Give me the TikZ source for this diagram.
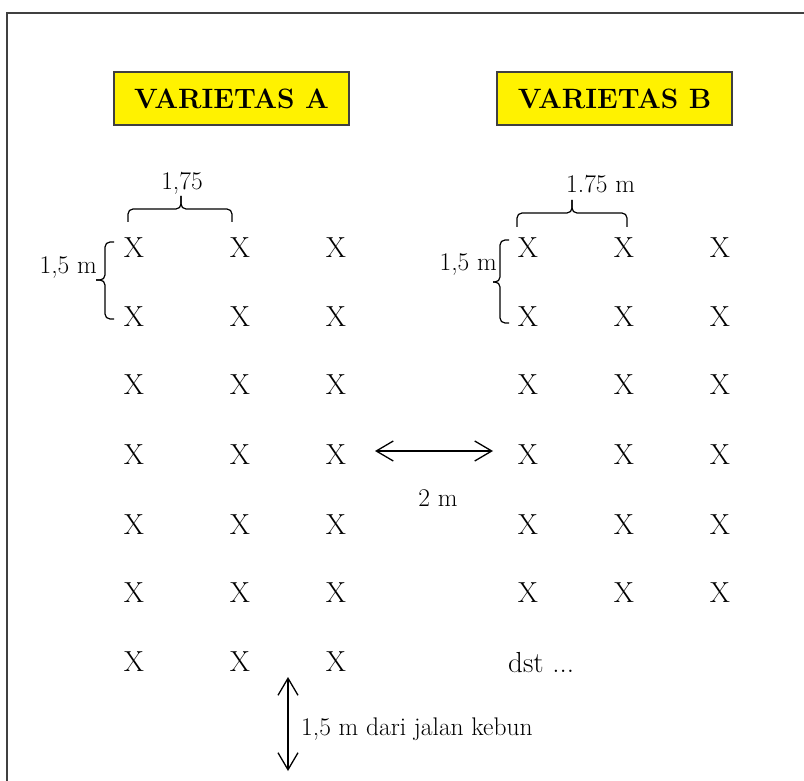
\documentclass[tikz,border=0pt]{standalone}
\usepackage{fontspec}
\usetikzlibrary{arrows.meta}
\tikzset{
  plant/.style={inner sep=0pt, font=\fontsize{29}{30}\selectfont},
  lbl/.style={inner sep=0pt, font=\fontsize{25.5}{27}\selectfont},
  titlebox/.style={draw=black!75, line width=1.3pt, fill=yellow, minimum width=235pt, minimum height=53pt, inner sep=0pt,
    font=\bfseries\fontsize{28}{30}\selectfont},
  bracepart/.style={line width=1.2pt, rounded corners=5pt},
  dimarrow/.style={line width=1.3pt, {Straight Barb[length=17pt,width=20pt,line width=1.3pt]}-{Straight Barb[length=17pt,width=20pt,line width=1.3pt]}},
  frameline/.style={draw=black!75, line width=2pt}
}
\begin{document}
\begin{tikzpicture}[x=1pt,y=-1pt]
\useasboundingbox (0,0) rectangle (804,781);
\draw[frameline] (7,781) -- (7,13) -- (804,13);
% title boxes
\node[titlebox] (boxA) at (231.5,98.5) {\raisebox{-3pt}{VARIETAS A}};
\node[titlebox] (boxB) at (614.5,98.5) {\raisebox{-3pt}{VARIETAS B}};
% plants variety A
\foreach \r/\y in {1/248,2/317,3/385,4/455,5/525,6/593,7/662}{
  \foreach \c/\x in {1/134,2/240,3/336}{
    \node[plant] (a\r\c) at (\x,\y) {X};
  }
}
% plants variety B
\foreach \r/\y in {1/248,2/317,3/385,4/455,5/525,6/593}{
  \foreach \c/\x in {1/528,2/624,3/720}{
    \node[plant] (b\r\c) at (\x,\y) {X};
  }
}
\node[plant, anchor=base west] (dst) at (508,672) {dst ...};
% horizontal brace A
\coordinate (hA1) at (128,222);
\coordinate (hA2) at (232,222);
\coordinate (hAt) at (181,196);
\draw[bracepart] (hA1) -- (128,209) -- (181,209) -- (hAt);
\draw[bracepart] (hAt) -- (181,209) -- (232,209) -- (hA2);
\node[lbl, anchor=base] (lhA) at (182,190) {1,75};
% vertical brace A
\coordinate (vA1) at (114,242);
\coordinate (vA2) at (114,319);
\coordinate (vAt) at (96,280);
\draw[bracepart] (vA1) -- (105,242) -- (105,280) -- (vAt);
\draw[bracepart] (vAt) -- (105,280) -- (105,319) -- (vA2);
\node[lbl, anchor=base east] (lvA) at (97,273) {1,5 m};
% horizontal brace B
\coordinate (hB1) at (517,227);
\coordinate (hB2) at (627,227);
\coordinate (hBt) at (572,200);
\draw[bracepart] (hB1) -- (517,213) -- (572,213) -- (hBt);
\draw[bracepart] (hBt) -- (572,213) -- (627,213) -- (hB2);
\node[lbl, anchor=base west] (lhB) at (566,193) {1.75 m};
% vertical brace B
\coordinate (vB1) at (509,240);
\coordinate (vB2) at (509,323);
\coordinate (vBt) at (493,282);
\draw[bracepart] (vB1) -- (500,240) -- (500,282) -- (vBt);
\draw[bracepart] (vBt) -- (500,282) -- (500,323) -- (vB2);
\node[lbl, anchor=base east] (lvB) at (497,270) {1,5 m};
% distance between varieties
\coordinate (mL) at (375,451);
\coordinate (mR) at (493,451);
\draw[dimarrow] (mL) -- (mR);
\node[lbl, anchor=base] (l2m) at (438,506) {2 m};
% distance to garden road
\coordinate (rT) at (288,677);
\coordinate (rB) at (288,771);
\draw[dimarrow] (rT) -- (rB);
\node[lbl, anchor=base west] (lroad) at (301,735) {1,5 m dari jalan kebun};
\end{tikzpicture}
\end{document}
